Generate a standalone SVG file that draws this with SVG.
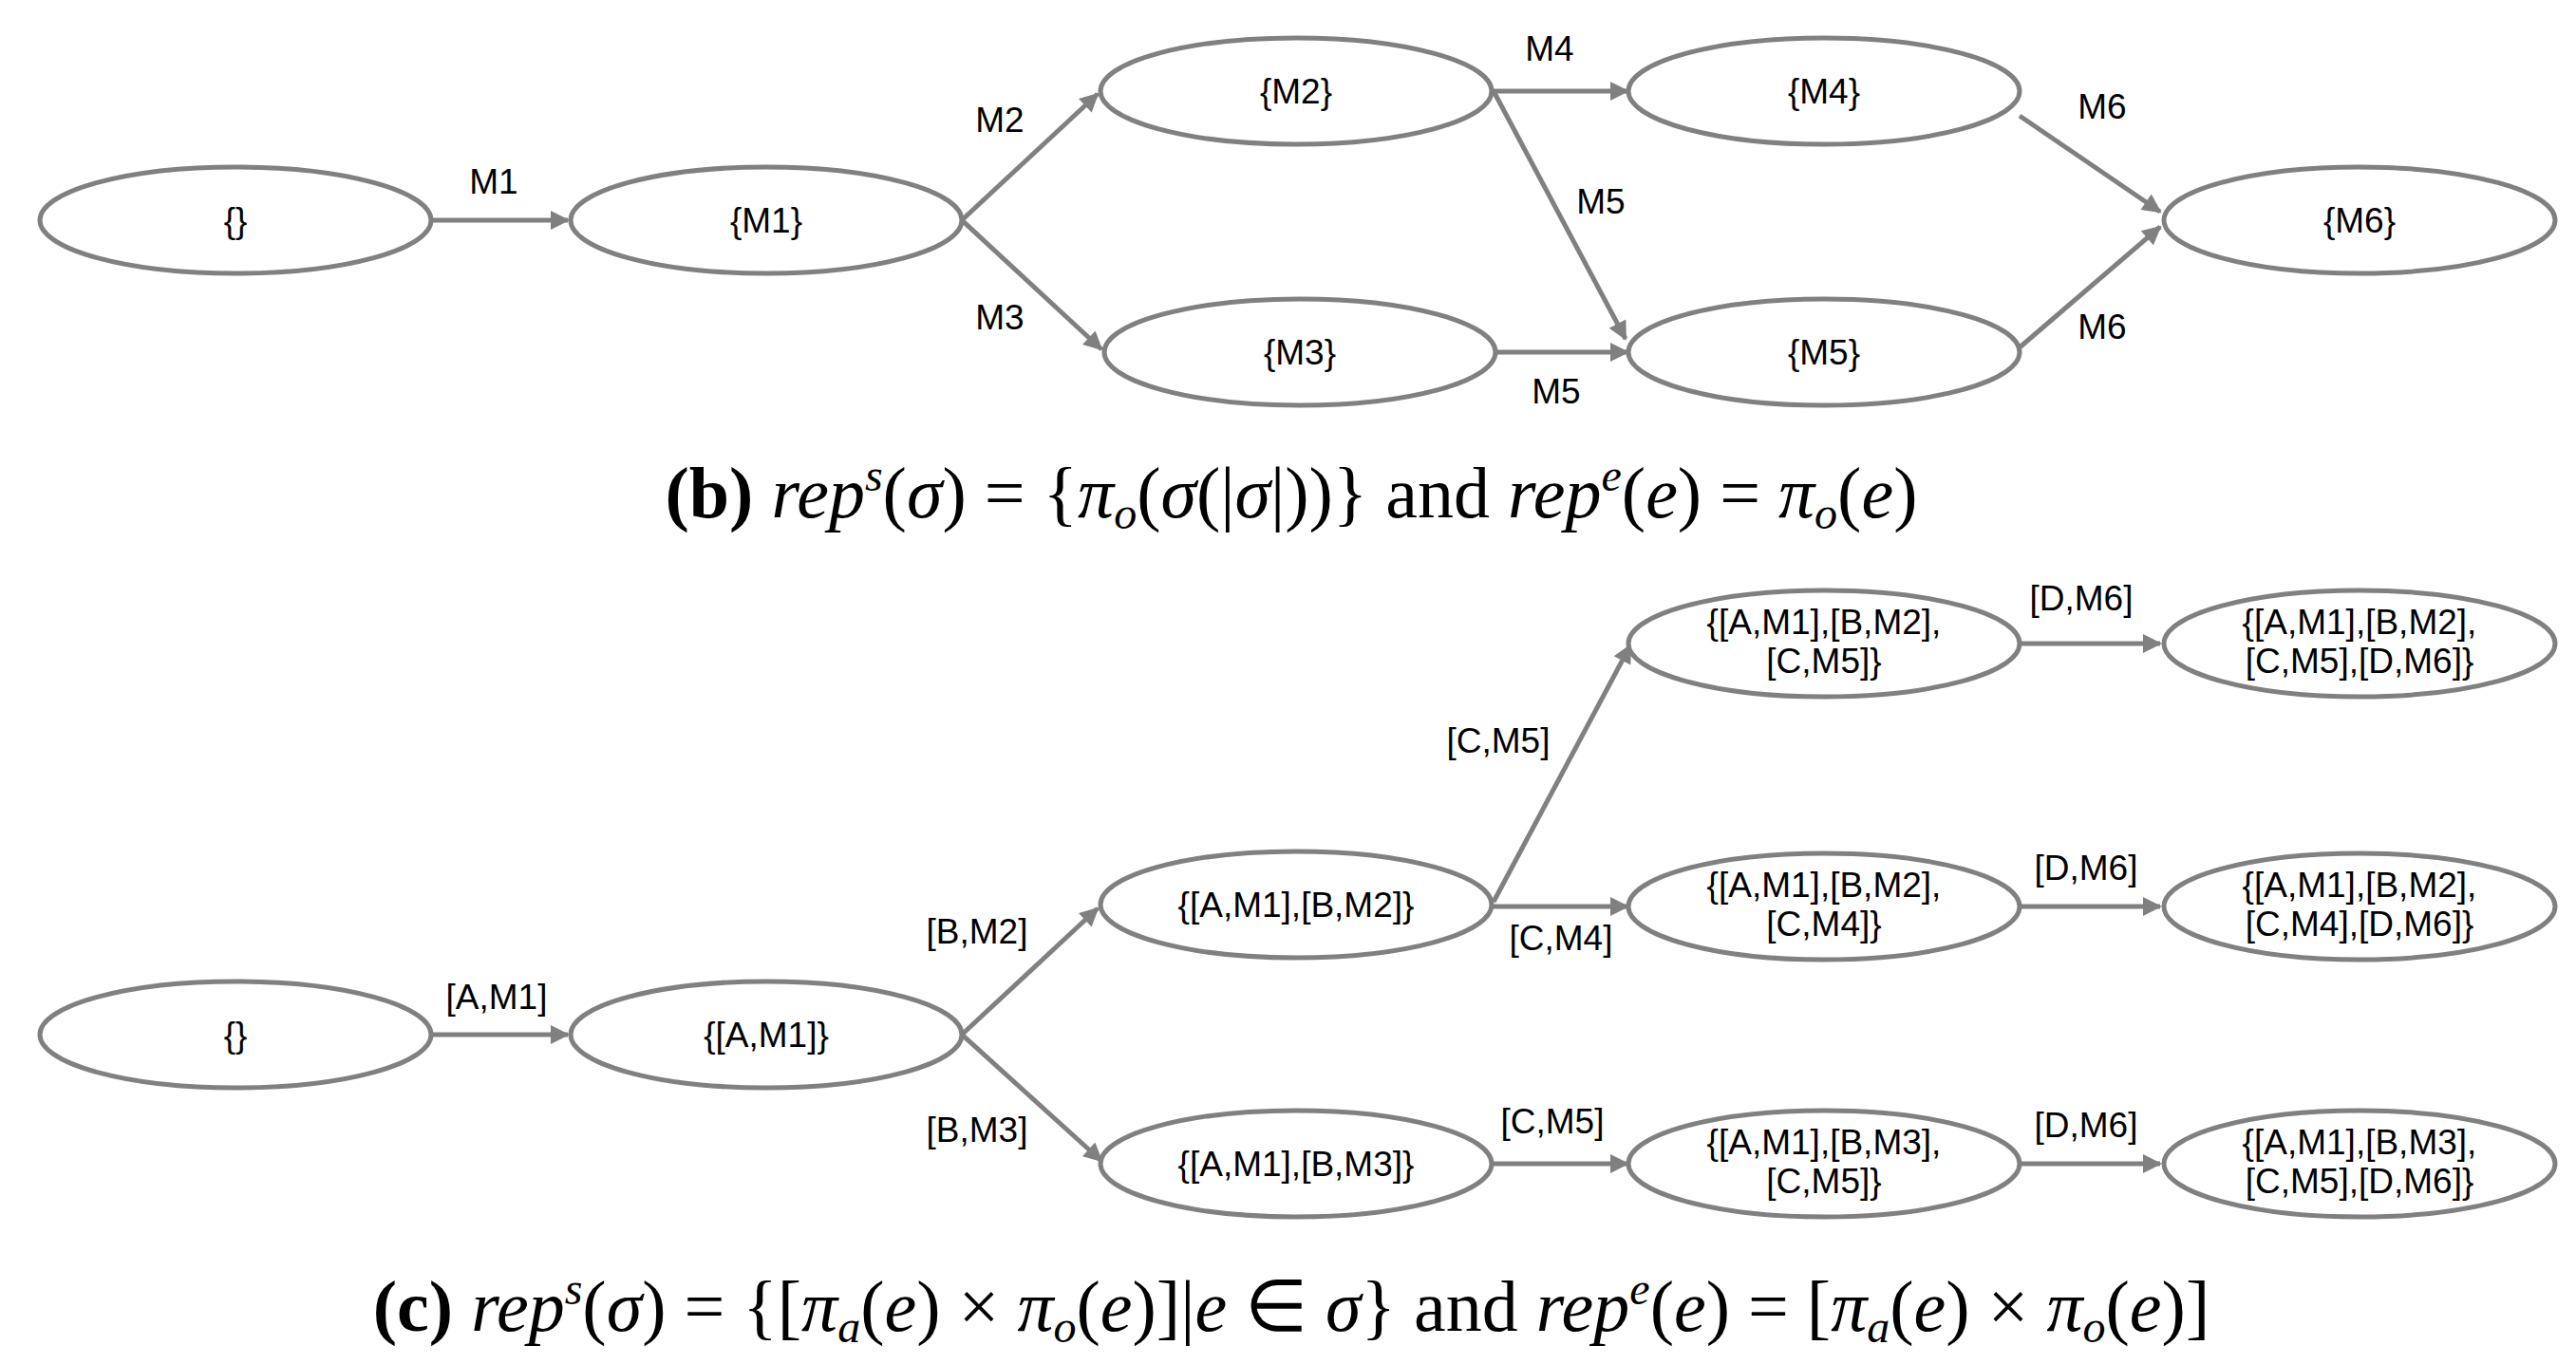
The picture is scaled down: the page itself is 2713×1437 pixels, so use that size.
<svg xmlns="http://www.w3.org/2000/svg" width="2713" height="1437" viewBox="0 0 2713 1437">
<style>
.n ellipse{fill:#fff;stroke:#808080;stroke-width:5}
.n text,.l{font-family:"Liberation Sans",Arial,sans-serif;font-size:37px;fill:#000;text-anchor:middle}
.e line{stroke:#808080;stroke-width:5;marker-end:url(#a)}
.cap{font-family:"Liberation Serif","Times New Roman",serif;font-size:76px;text-anchor:middle}
.i{font-style:italic}
</style>
<defs><marker id="a" viewBox="0 0 10 10" refX="9" refY="5" markerWidth="5" markerHeight="4" orient="auto" markerUnits="strokeWidth"><path d="M0,0L10,5L0,10z" fill="#808080"/></marker></defs>
<rect width="2713" height="1437" fill="#fff"/>
<g class="e" id="edges">
<line x1="453" y1="232" x2="598" y2="232"/>
<line x1="1013" y1="232" x2="1156" y2="99"/>
<line x1="1013" y1="232" x2="1160" y2="368"/>
<line x1="1573" y1="96" x2="1714" y2="96"/>
<line x1="1573" y1="96" x2="1712" y2="357"/>
<line x1="1573" y1="371" x2="1714" y2="371"/>
<line x1="2127" y1="122" x2="2275" y2="223"/>
<line x1="2127" y1="366" x2="2275" y2="239"/>
<line x1="453" y1="1090" x2="598" y2="1090"/>
<line x1="1013" y1="1090" x2="1156" y2="957"/>
<line x1="1013" y1="1090" x2="1160" y2="1223"/>
<line x1="1573" y1="950" x2="1717" y2="680"/>
<line x1="1573" y1="955" x2="1714" y2="955"/>
<line x1="1573" y1="1226" x2="1714" y2="1226"/>
<line x1="2127" y1="678" x2="2275" y2="678"/>
<line x1="2127" y1="955" x2="2275" y2="955"/>
<line x1="2127" y1="1226" x2="2275" y2="1226"/>
</g>
<g id="labels">
<text class="l" x="520" y="204">M1</text>
<text class="l" x="1053" y="139">M2</text>
<text class="l" x="1053" y="347">M3</text>
<text class="l" x="1632" y="64">M4</text>
<text class="l" x="1686" y="225">M5</text>
<text class="l" x="1639" y="425">M5</text>
<text class="l" x="2214" y="125">M6</text>
<text class="l" x="2214" y="357">M6</text>
<text class="l" x="523" y="1063">[A,M1]</text>
<text class="l" x="1029" y="994">[B,M2]</text>
<text class="l" x="1029" y="1203">[B,M3]</text>
<text class="l" x="1578" y="793">[C,M5]</text>
<text class="l" x="1644" y="1001">[C,M4]</text>
<text class="l" x="2192" y="643">[D,M6]</text>
<text class="l" x="2197" y="927">[D,M6]</text>
<text class="l" x="1635" y="1194">[C,M5]</text>
<text class="l" x="2197" y="1198">[D,M6]</text>
</g>
<g class="n" id="b0"><ellipse cx="248" cy="232" rx="206" ry="56"/><text x="248" y="245">{}</text></g>
<g class="n" id="b1"><ellipse cx="807" cy="232" rx="206" ry="56"/><text x="807" y="245">{M1}</text></g>
<g class="n" id="b2"><ellipse cx="1365" cy="96" rx="206" ry="56"/><text x="1365" y="109">{M2}</text></g>
<g class="n" id="b3"><ellipse cx="1369" cy="371" rx="206" ry="56"/><text x="1369" y="384">{M3}</text></g>
<g class="n" id="b4"><ellipse cx="1921" cy="96" rx="206" ry="56"/><text x="1921" y="109">{M4}</text></g>
<g class="n" id="b5"><ellipse cx="1921" cy="371" rx="206" ry="56"/><text x="1921" y="384">{M5}</text></g>
<g class="n" id="b6"><ellipse cx="2485" cy="232" rx="206" ry="56"/><text x="2485" y="245">{M6}</text></g>
<text class="cap" x="1360" y="545"><tspan font-weight="bold">(b)</tspan>  <tspan class="i">rep</tspan><tspan class="i" font-size="48" dy="-28">s</tspan><tspan dy="28">(</tspan><tspan class="i">σ</tspan>) = {<tspan class="i">π</tspan><tspan class="i" font-size="48" dy="12">o</tspan><tspan dy="-12">(</tspan><tspan class="i">σ</tspan>(|<tspan class="i">σ</tspan>|))} and  <tspan class="i">rep</tspan><tspan class="i" font-size="48" dy="-28">e</tspan><tspan dy="28">(</tspan><tspan class="i">e</tspan>) = <tspan class="i">π</tspan><tspan class="i" font-size="48" dy="12">o</tspan><tspan dy="-12">(</tspan><tspan class="i">e</tspan>)</text>
<g class="n" id="c0"><ellipse cx="248" cy="1090" rx="206" ry="56"/><text x="248" y="1103">{}</text></g>
<g class="n" id="c1"><ellipse cx="807" cy="1090" rx="206" ry="56"/><text x="807" y="1103">{[A,M1]}</text></g>
<g class="n" id="c2"><ellipse cx="1365" cy="953" rx="206" ry="56"/><text x="1365" y="966">{[A,M1],[B,M2]}</text></g>
<g class="n" id="c3"><ellipse cx="1365" cy="1226" rx="206" ry="56"/><text x="1365" y="1239">{[A,M1],[B,M3]}</text></g>
<g class="n" id="c4"><ellipse cx="1921" cy="678" rx="206" ry="56"/><text x="1921" y="668">{[A,M1],[B,M2],</text><text x="1921" y="709">[C,M5]}</text></g>
<g class="n" id="c5"><ellipse cx="2485" cy="678" rx="206" ry="56"/><text x="2485" y="668">{[A,M1],[B,M2],</text><text x="2485" y="709">[C,M5],[D,M6]}</text></g>
<g class="n" id="c6"><ellipse cx="1921" cy="955" rx="206" ry="56"/><text x="1921" y="945">{[A,M1],[B,M2],</text><text x="1921" y="986">[C,M4]}</text></g>
<g class="n" id="c7"><ellipse cx="2485" cy="955" rx="206" ry="56"/><text x="2485" y="945">{[A,M1],[B,M2],</text><text x="2485" y="986">[C,M4],[D,M6]}</text></g>
<g class="n" id="c8"><ellipse cx="1921" cy="1226" rx="206" ry="56"/><text x="1921" y="1216">{[A,M1],[B,M3],</text><text x="1921" y="1257">[C,M5]}</text></g>
<g class="n" id="c9"><ellipse cx="2485" cy="1226" rx="206" ry="56"/><text x="2485" y="1216">{[A,M1],[B,M3],</text><text x="2485" y="1257">[C,M5],[D,M6]}</text></g>
<text class="cap" x="1360" y="1402"><tspan font-weight="bold">(c)</tspan>  <tspan class="i">rep</tspan><tspan class="i" font-size="48" dy="-28">s</tspan><tspan dy="28">(</tspan><tspan class="i">σ</tspan>) = {[<tspan class="i">π</tspan><tspan class="i" font-size="48" dy="12">a</tspan><tspan dy="-12">(</tspan><tspan class="i">e</tspan>) × <tspan class="i">π</tspan><tspan class="i" font-size="48" dy="12">o</tspan><tspan dy="-12">(</tspan><tspan class="i">e</tspan>)]|<tspan class="i">e</tspan> ∈ <tspan class="i">σ</tspan>} and  <tspan class="i">rep</tspan><tspan class="i" font-size="48" dy="-28">e</tspan><tspan dy="28">(</tspan><tspan class="i">e</tspan>) = [<tspan class="i">π</tspan><tspan class="i" font-size="48" dy="12">a</tspan><tspan dy="-12">(</tspan><tspan class="i">e</tspan>) × <tspan class="i">π</tspan><tspan class="i" font-size="48" dy="12">o</tspan><tspan dy="-12">(</tspan><tspan class="i">e</tspan>)]</text>
</svg>
